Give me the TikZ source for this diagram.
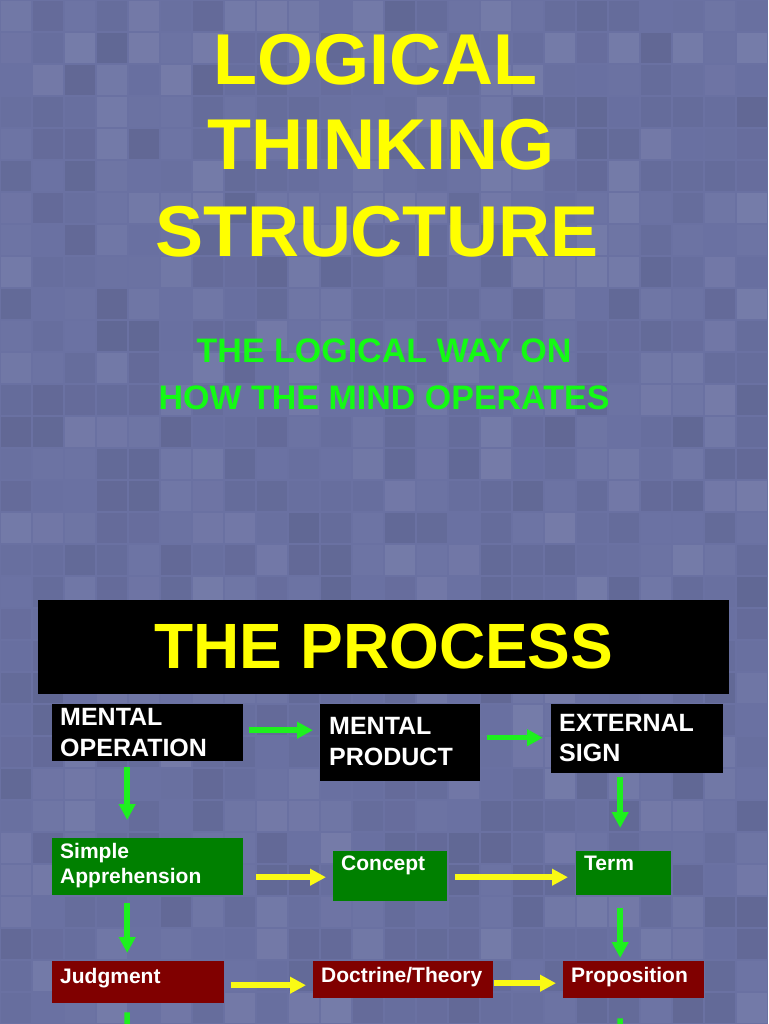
\documentclass[tikz,border=0pt]{standalone}
\usepackage{fontspec}
\setmainfont{Liberation Sans}
\usetikzlibrary{arrows.meta}
\definecolor{bgcol}{RGB}{106,113,162}
\definecolor{titleyellow}{RGB}{255,255,0}
\definecolor{subgreen}{RGB}{20,250,20}
\definecolor{arrowgreen}{RGB}{30,240,30}
\definecolor{arrowyellow}{RGB}{250,250,20}
\definecolor{boxgreen}{RGB}{0,128,0}
\definecolor{boxred}{RGB}{128,0,0}
\tikzset{
  box/.style={draw=none, fill=#1, rectangle, inner sep=0pt, anchor=north west},
  bigtext/.style={inner sep=0pt, anchor=base west, text=white, font=\bfseries\fontsize{25}{31}\selectfont},
  smalltext/.style={inner sep=0pt, anchor=base west, text=white, font=\bfseries\fontsize{21}{25}\selectfont},
  titletext/.style={inner sep=0pt, anchor=base, text=titleyellow, font=\bfseries\fontsize{72}{85}\selectfont},
  subtext/.style={inner sep=0pt, anchor=base, text=subgreen, font=\bfseries\fontsize{34}{47}\selectfont},
  garrow/.style={draw=arrowgreen, line width=5.5pt, -{Triangle[length=16pt,width=16pt]}},
  yarrow/.style={draw=arrowyellow, line width=5.5pt, -{Triangle[length=16pt,width=16pt]}},
  gline/.style={draw=arrowgreen, line width=5.5pt}
}
\begin{document}
\begin{tikzpicture}[x=1pt,y=-1pt]
\useasboundingbox (0,0) rectangle (768,1024);
\clip (0,0) rectangle (768,1024);
\fill[bgcol] (0,0) rectangle (768,1024);
% subtle background texture
\pgfmathsetseed{11}
\foreach \i in {0,...,23}{
  \foreach \j in {0,...,31}{
    \pgfmathsetmacro{\op}{0.08*rnd}
    \pgfmathsetmacro{\dk}{rnd}
    \ifdim\dk pt>0.5pt
      \fill[white, opacity=\op] (\i*32+1,\j*32+1) rectangle ++(30,30);
    \else
      \fill[black, opacity=\op] (\i*32+1,\j*32+1) rectangle ++(30,30);
    \fi
  }
}
% titles
\node[titletext] (title1) at (375,85) {LOGICAL};
\node[titletext] (title2) at (381,170) {THINKING};
\node[titletext] (title3) at (377,256) {STRUCTURE};
\node[subtext] (sub1) at (384,362.5) {THE LOGICAL WAY ON};
\node[subtext] (sub2) at (384,409.5) {HOW THE MIND OPERATES};
% banner
\node[box=black, minimum width=691pt, minimum height=94pt] (banner) at (38,600) {};
\node[inner sep=0pt, anchor=base, text=titleyellow, font=\bfseries\fontsize{64}{70}\selectfont] (process) at (384,668) {THE PROCESS};
% row 1
\node[box=black, minimum width=191pt, minimum height=57pt] (mo) at (52,704) {};
\node[bigtext] (mot1) at (60,725) {MENTAL};
\node[bigtext] (mot2) at (60,756) {OPERATION};
\node[box=black, minimum width=160pt, minimum height=77pt] (mp) at (320,704) {};
\node[bigtext] (mpt1) at (329,734) {MENTAL};
\node[bigtext] (mpt2) at (329,765) {PRODUCT};
\node[box=black, minimum width=172pt, minimum height=69pt] (es) at (551,704) {};
\node[bigtext] (est1) at (559,731) {EXTERNAL};
\node[bigtext] (est2) at (559,761) {SIGN};
% row 2
\node[box=boxgreen, minimum width=191pt, minimum height=57pt] (sa) at (52,838) {};
\node[smalltext] (sat1) at (60,858) {Simple};
\node[smalltext] (sat2) at (60,883) {Apprehension};
\node[box=boxgreen, minimum width=114pt, minimum height=50pt] (co) at (333,851) {};
\node[smalltext] (cot) at (341,870) {Concept};
\node[box=boxgreen, minimum width=95pt, minimum height=44pt] (te) at (576,851) {};
\node[smalltext] (tet) at (584,870) {Term};
% row 3
\node[box=boxred, minimum width=172pt, minimum height=42pt] (ju) at (52,961) {};
\node[smalltext] (jut) at (60,983) {Judgment};
\node[box=boxred, minimum width=180pt, minimum height=37pt] (dt) at (313,961) {};
\node[smalltext] (dtt) at (321,982) {Doctrine/Theory};
\node[box=boxred, minimum width=141pt, minimum height=37pt] (pr) at (563,961) {};
\node[smalltext] (prt) at (571,982) {Proposition};
% green horizontal arrows
\draw[garrow, shorten <=6pt, shorten >=7pt] ([yshift=2.5pt]mo.east) -- ([yshift=2.5pt]mo.east -| mp.west);
\draw[garrow, shorten <=7pt, shorten >=8pt] ([yshift=5pt]mp.east) -- ([yshift=5pt]mp.east -| es.west);
% green vertical arrows
\draw[garrow, shorten <=6pt, shorten >=18pt] ([xshift=-20.5pt]mo.south) -- ([xshift=-20.5pt]mo.south |- sa.north);
\draw[garrow, shorten <=4pt, shorten >=23pt] ([xshift=-17pt]es.south) -- ([xshift=-17pt]es.south |- te.north);
\draw[garrow, shorten <=8pt, shorten >=8pt] ([xshift=-20.5pt]sa.south) -- ([xshift=-20.5pt]sa.south |- ju.north);
\draw[garrow, shorten <=13pt, shorten >=3pt] ([xshift=-3.5pt]te.south) -- ([xshift=-3.5pt]te.south |- pr.north);
% yellow arrows
\draw[yarrow, shorten <=13pt, shorten >=7pt] ([yshift=-10.5pt]sa.east) -- ([yshift=-10.5pt]sa.east -| co.west);
\draw[yarrow, shorten <=8pt, shorten >=8pt] ([yshift=-1pt]co.east) -- ([yshift=-1pt]co.east -| te.west);
\draw[yarrow, shorten <=7pt, shorten >=7pt] ([yshift=-3pt]ju.east) -- ([yshift=-3pt]ju.east -| dt.west);
\draw[yarrow, shorten <=1pt, shorten >=7pt] ([yshift=-3.5pt]dt.east) -- ([yshift=-3.5pt]dt.east -| pr.west);
% stubs leaving the page
\coordinate (jout) at (127,1034);
\coordinate (pout) at (620,1034);
\draw[gline, shorten <=9pt] ([xshift=-11pt]ju.south) -- (jout);
\draw[gline, shorten <=20pt] ([xshift=-13.5pt]pr.south) -- (pout);
\end{tikzpicture}
\end{document}
